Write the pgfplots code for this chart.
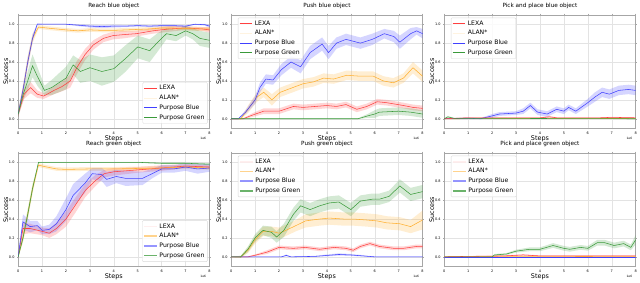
\documentclass[border=0pt]{standalone}
\usepackage{fontspec}
\setmainfont{DejaVu Sans}
\usepackage{pgfplots}
\usepackage{pgfplotstable}
\pgfplotsset{compat=1.18}
\usepgfplotslibrary{groupplots,fillbetween}
\definecolor{cred}{HTML}{FF4040}
\definecolor{corange}{HTML}{FFB030}
\definecolor{cblue}{HTML}{4040FF}
\definecolor{cgreen}{HTML}{3A9A3A}

\newcommand{\band}[3]{%
 \addplot[draw=none, forget plot, name path=u#3] table[x=x, y expr=\thisrow{y}+\thisrow{e}] {#2};
 \addplot[draw=none, forget plot, name path=l#3] table[x=x, y expr=\thisrow{y}-\thisrow{e}] {#2};
 \addplot[fill=#1, fill opacity=0.22, draw=none, forget plot] fill between[of=u#3 and l#3];
 \addplot[#1, line width=0.55pt, forget plot] table[x=x,y=y] {#2};
}
\newcommand{\limg}[2]{\addlegendimage{legend image code/.code={\draw[#1] (0cm,0cm) -- (0.45cm,0cm);}}\addlegendentry{#2}}
\newcommand{\toplegend}{%
 \limg{draw=cred, line width=1.1pt}{LEXA}
 \limg{draw=corange, line width=1.1pt, draw opacity=0.15}{ALAN*}
 \limg{draw=cblue, line width=1.1pt}{Purpose Blue}
 \limg{draw=cgreen, line width=1.1pt}{Purpose Green}
}
\newcommand{\botlegend}{%
 \limg{draw=cred, line width=1.6pt, draw opacity=0.08}{LEXA}
 \limg{draw=corange, line width=1.6pt, draw opacity=0.55}{ALAN*}
 \limg{draw=cblue, line width=1.6pt, draw opacity=0.55}{Purpose Blue}
 \limg{draw=cgreen, line width=1.6pt, draw opacity=0.75}{Purpose Green}
}

% ---------- Panel a: Reach blue object
\pgfplotstableread{
x y e
0 0.05 0.03
0.2 0.3 0.05
0.4 0.6 0.05
0.6 0.85 0.04
0.8 1.0 0.01
1.0 1.0 0.005
1.5 1.0 0.005
2.0 1.0 0.005
2.5 0.99 0.01
3.0 0.98 0.015
3.5 0.975 0.015
4.0 0.98 0.015
4.5 0.98 0.01
5.0 0.985 0.01
5.5 0.98 0.01
6.0 0.985 0.01
6.5 0.985 0.01
7.0 0.98 0.01
7.4 1.0 0.005
7.8 0.995 0.01
8.0 0.98 0.015
}\taB
\pgfplotstableread{
x y e
0 0.05 0.03
0.2 0.3 0.05
0.4 0.6 0.06
0.6 0.85 0.05
0.85 0.97 0.02
1.2 0.96 0.02
1.6 0.95 0.02
2.0 0.94 0.02
2.5 0.93 0.02
3.0 0.94 0.02
3.5 0.935 0.02
4.0 0.935 0.02
4.5 0.94 0.02
5.0 0.945 0.02
5.5 0.95 0.02
6.0 0.96 0.02
6.5 0.96 0.02
7.0 0.955 0.02
7.5 0.95 0.02
8.0 0.95 0.02
}\taO
\pgfplotstableread{
x y e
0 0.05 0.03
0.25 0.26 0.05
0.52 0.33 0.06
0.8 0.26 0.04
1.07 0.24 0.03
1.5 0.3 0.04
1.83 0.34 0.05
2.18 0.4 0.07
2.45 0.54 0.07
2.8 0.68 0.06
3.14 0.78 0.05
3.56 0.85 0.04
3.97 0.88 0.04
4.4 0.89 0.04
4.94 0.9 0.03
5.63 0.93 0.03
6.3 0.95 0.03
7.0 0.96 0.02
7.7 0.95 0.02
8.0 0.94 0.03
}\taR
\pgfplotstableread{
x y e
0 0.05 0.03
0.2 0.25 0.06
0.4 0.4 0.1
0.6 0.56 0.12
0.8 0.45 0.1
1.1 0.3 0.05
1.4 0.33 0.08
1.7 0.38 0.1
2.0 0.43 0.12
2.3 0.57 0.1
2.6 0.5 0.12
3.0 0.54 0.14
3.5 0.5 0.15
4.0 0.53 0.14
4.5 0.64 0.14
5.0 0.76 0.12
5.5 0.72 0.12
5.8 0.8 0.1
6.2 0.9 0.06
6.6 0.88 0.06
7.0 0.93 0.05
7.3 0.9 0.06
7.6 0.85 0.08
8.0 0.83 0.08
}\taG

% ---------- Panel b: Push blue object
\pgfplotstableread{
x y e
0 0 0.003
0.3 0.0 0.005
0.6 0.07 0.02
1.0 0.2 0.04
1.2 0.33 0.05
1.45 0.42 0.05
1.75 0.41 0.05
2.1 0.52 0.06
2.5 0.6 0.06
2.9 0.55 0.07
3.3 0.7 0.07
3.8 0.79 0.07
4.07 0.7 0.07
4.4 0.8 0.06
4.8 0.84 0.06
5.4 0.8 0.06
5.9 0.84 0.06
6.4 0.9 0.05
6.8 0.87 0.06
7.05 0.81 0.07
7.5 0.9 0.06
7.75 0.93 0.04
8.0 0.9 0.05
}\tbB
\pgfplotstableread{
x y e
0 0 0.003
0.4 0.0 0.005
0.7 0.1 0.04
1.08 0.23 0.05
1.36 0.28 0.05
1.7 0.2 0.06
2.05 0.28 0.05
2.47 0.32 0.05
3.0 0.37 0.05
3.44 0.39 0.05
3.86 0.43 0.05
4.28 0.42 0.05
4.83 0.46 0.05
5.4 0.45 0.05
5.94 0.45 0.05
6.36 0.4 0.05
6.78 0.38 0.05
7.2 0.43 0.05
7.6 0.54 0.06
8.0 0.45 0.06
}\tbO
\pgfplotstableread{
x y e
0 0 0.003
0.5 0.0 0.005
0.9 0.04 0.02
1.36 0.08 0.03
2.0 0.08 0.03
2.6 0.13 0.03
3.0 0.12 0.03
3.5 0.13 0.03
4.0 0.14 0.03
4.4 0.13 0.03
4.8 0.15 0.03
5.25 0.1 0.03
5.67 0.13 0.03
6.1 0.18 0.03
6.5 0.17 0.03
7.2 0.14 0.03
7.6 0.12 0.03
8.0 0.11 0.03
}\tbR
\pgfplotstableread{
x y e
0 0 0.005
5.3 0.0 0.005
5.7 0.03 0.02
6.0 0.05 0.04
6.2 0.07 0.04
7.0 0.08 0.04
7.5 0.07 0.04
8.0 0.05 0.04
}\tbG

% ---------- Panel c: Pick and place blue object
\pgfplotstableread{
x y e
0 0 0.003
1.0 0.005 0.01
1.5 0.0 0.005
2.0 0.03 0.02
2.3 0.05 0.02
3.0 0.06 0.02
3.3 0.08 0.03
3.6 0.14 0.03
3.9 0.07 0.03
4.3 0.05 0.03
4.7 0.1 0.03
5.0 0.08 0.03
5.2 0.12 0.03
5.5 0.08 0.03
6.0 0.17 0.04
6.3 0.23 0.05
6.6 0.28 0.05
6.9 0.26 0.05
7.3 0.3 0.05
7.7 0.31 0.05
8.0 0.3 0.05
}\tcB
\pgfplotstableread{
x y e
0 0.0 0.002
8 0.003 0.002
}\tcO
\pgfplotstableread{
x y e
0 0.0 0.003
1 0.01 0.005
2 0.01 0.005
3 0.01 0.005
4 0.01 0.005
4.4 0.02 0.01
4.7 0.01 0.005
6.5 0.01 0.005
7.0 0.015 0.005
8 0.01 0.005
}\tcR
\pgfplotstableread{
x y e
0 0.0 0.005
0.15 0.02 0.01
0.4 0.005 0.005
8 0.0 0.003
}\tcG

% ---------- Panel d: Reach green object
\pgfplotstableread{
x y e
0 0.0 0.01
0.2 0.2 0.04
0.4 0.45 0.05
0.6 0.72 0.04
0.85 1.0 0.005
1.5 1.0 0.005
3.0 1.0 0.005
5.0 1.0 0.005
6.0 0.99 0.01
7.0 0.99 0.01
8.0 0.98 0.01
}\tdG
\pgfplotstableread{
x y e
0 0.0 0.01
0.2 0.2 0.04
0.4 0.45 0.05
0.6 0.72 0.05
0.85 0.97 0.02
1.2 0.95 0.02
1.6 0.93 0.02
2.0 0.925 0.02
3.0 0.93 0.02
4.0 0.93 0.02
5.0 0.935 0.02
6.0 0.94 0.02
7.0 0.95 0.02
8.0 0.94 0.02
}\tdO
\pgfplotstableread{
x y e
0 0.0 0.01
0.2 0.37 0.08
0.5 0.32 0.06
0.8 0.33 0.05
1.0 0.28 0.04
1.3 0.29 0.05
1.6 0.35 0.08
2.0 0.5 0.12
2.3 0.65 0.12
2.8 0.78 0.1
3.1 0.88 0.06
3.5 0.87 0.07
3.7 0.82 0.08
4.1 0.85 0.07
4.5 0.83 0.08
5.2 0.83 0.07
5.6 0.88 0.05
6.0 0.93 0.04
6.5 0.93 0.04
7.0 0.95 0.04
7.5 0.93 0.05
8.0 0.94 0.04
}\tdB
\pgfplotstableread{
x y e
0 0.0 0.01
0.2 0.3 0.06
0.5 0.3 0.05
1.0 0.27 0.04
1.3 0.25 0.05
1.6 0.3 0.06
2.0 0.4 0.08
2.4 0.55 0.08
2.8 0.7 0.07
3.2 0.8 0.06
3.6 0.88 0.04
4.0 0.9 0.04
5.0 0.92 0.03
6.0 0.94 0.03
7.0 0.96 0.02
8.0 0.95 0.02
}\tdR

% ---------- Panel e: Push green object
\pgfplotstableread{
x y e
0 0 0.005
0.4 0.0 0.01
0.7 0.08 0.03
1.0 0.2 0.04
1.33 0.28 0.05
1.68 0.26 0.06
1.9 0.21 0.06
2.2 0.28 0.07
2.6 0.45 0.07
2.9 0.54 0.07
3.3 0.5 0.07
3.7 0.54 0.07
4.1 0.57 0.07
4.5 0.58 0.07
5.0 0.5 0.07
5.4 0.59 0.06
5.9 0.61 0.06
6.2 0.61 0.06
6.6 0.64 0.06
7.05 0.75 0.07
7.5 0.66 0.07
8.0 0.69 0.07
}\teG
\pgfplotstableread{
x y e
0 0 0.005
0.4 0.0 0.01
0.7 0.07 0.03
1.0 0.18 0.04
1.33 0.27 0.05
1.68 0.27 0.05
2.0 0.25 0.06
2.2 0.27 0.06
2.7 0.33 0.06
3.1 0.38 0.07
3.7 0.4 0.07
4.1 0.41 0.07
4.7 0.4 0.07
5.1 0.4 0.07
5.65 0.39 0.07
6.1 0.38 0.07
6.5 0.36 0.07
7.05 0.35 0.07
7.5 0.32 0.07
8.0 0.39 0.1
}\teO
\pgfplotstableread{
x y e
0 0 0.003
0.7 0.0 0.005
1.05 0.02 0.01
1.5 0.05 0.02
2.0 0.1 0.02
2.6 0.09 0.02
3.1 0.1 0.02
3.7 0.08 0.02
4.3 0.1 0.02
4.8 0.09 0.02
5.1 0.07 0.02
5.4 0.11 0.02
5.8 0.14 0.02
6.2 0.11 0.02
6.8 0.09 0.02
7.2 0.09 0.02
7.75 0.11 0.02
8.0 0.11 0.02
}\teR
\pgfplotstableread{
x y e
0 0 0.003
2.1 0.0 0.003
2.3 0.015 0.01
2.5 0.0 0.003
3.5 0.005 0.005
4.0 0.015 0.01
4.5 0.025 0.012
5.0 0.02 0.01
5.5 0.01 0.008
6.0 0.0 0.003
8.0 0.0 0.003
}\teB

% ---------- Panel f: Pick and place green object
\pgfplotstableread{
x y e
0 0 0.003
2.0 0.0 0.005
2.1 0.02 0.01
2.6 0.03 0.01
3.0 0.06 0.015
3.57 0.08 0.02
4.0 0.08 0.02
4.55 0.12 0.025
5.0 0.09 0.025
5.25 0.08 0.025
5.7 0.1 0.025
6.0 0.09 0.025
6.4 0.15 0.03
6.7 0.15 0.03
7.1 0.12 0.03
7.5 0.14 0.03
7.8 0.10 0.03
8.0 0.18 0.05
}\tfG
\pgfplotstableread{
x y e
0 0 0.003
1.0 0.005 0.003
2.5 0.01 0.005
3.3 0.02 0.008
4.0 0.01 0.005
6 0.01 0.005
8 0.01 0.005
}\tfR
\pgfplotstableread{
x y e
0 0.0 0.002
8 0.005 0.003
}\tfO
\pgfplotstableread{
x y e
0 0 0.002
8 0 0.002
}\tfB

\begin{document}
\begin{tikzpicture}
\begin{groupplot}[
 group style={group size=3 by 2, horizontal sep=22pt, vertical sep=25pt},
 width=194pt, height=115pt, scale only axis,
 xmin=0, xmax=8, ymin=-0.1, ymax=1.1,
 xtick={0,1,...,8}, ytick={0,0.2,0.4,0.6,0.8,1.0},
 yticklabel style={/pgf/number format/fixed, /pgf/number format/fixed zerofill, /pgf/number format/precision=1},
 /pgf/number format/assume math mode=true,
 ticklabel style={font=\fontsize{3.5}{4}\selectfont},
 tick align=outside, major tick length=1.2pt, tick style={gray!70, line width=0.3pt},
 xticklabel style={yshift=1pt}, yticklabel style={xshift=1pt},
 grid=major, grid style={gray!22, line width=0.4pt},
 axis line style={gray!70, line width=0.4pt},
 title style={font=\fontsize{5.8}{6}\selectfont, yshift=-3.5pt},
 label style={font=\fontsize{6.5}{7}\selectfont},
 xlabel=Steps, ylabel=Success,
 xlabel style={yshift=6pt}, ylabel style={yshift=-6pt},
 legend style={font=\fontsize{6.2}{7}\selectfont, draw=gray!30, rounded corners=1pt,
   fill=white, fill opacity=0.85, text opacity=1, draw opacity=1, inner sep=1pt, row sep=-0.3pt,
   cells={anchor=west}},
 legend cell align=left,
 extra description/.code={\node[font=\fontsize{3}{3.5}\selectfont, anchor=north east] at (1.0,-0.05) {1e6};},
]
% a
\nextgroupplot[title={Reach blue object}, legend style={at={(0.99,0.04)}, anchor=south east}]
\band{cred}{\taR}{aR}
\band{corange}{\taO}{aO}
\band{cblue}{\taB}{aB}
\band{cgreen}{\taG}{aG}
\toplegend
% b
\nextgroupplot[title={Push blue object}, legend style={at={(0.035,0.975)}, anchor=north west}]
\band{cred}{\tbR}{bR}
\band{corange}{\tbO}{bO}
\band{cblue}{\tbB}{bB}
\band{cgreen}{\tbG}{bG}
\toplegend
% c
\nextgroupplot[title={Pick and place blue object}, legend style={at={(0.035,0.975)}, anchor=north west}]
\band{corange}{\tcO}{cO}
\band{cblue}{\tcB}{cB}
\band{cred}{\tcR}{cR}
\band{cgreen}{\tcG}{cG}
\toplegend
% d
\nextgroupplot[title={Reach green object}, legend style={at={(0.99,0.04)}, anchor=south east}]
\band{cred}{\tdR}{dR}
\band{corange}{\tdO}{dO}
\band{cblue}{\tdB}{dB}
\band{cgreen}{\tdG}{dG}
\botlegend
% e
\nextgroupplot[title={Push green object}, legend style={at={(0.035,0.975)}, anchor=north west}]
\band{cred}{\teR}{eR}
\band{corange}{\teO}{eO}
\band{cblue}{\teB}{eB}
\band{cgreen}{\teG}{eG}
\botlegend
% f
\nextgroupplot[title={Pick and place green object}, legend style={at={(0.035,0.975)}, anchor=north west}]
\band{corange}{\tfO}{fO}
\band{cblue}{\tfB}{fB}
\band{cred}{\tfR}{fR}
\band{cgreen}{\tfG}{fG}
\botlegend
\end{groupplot}
\end{tikzpicture}
\end{document}
